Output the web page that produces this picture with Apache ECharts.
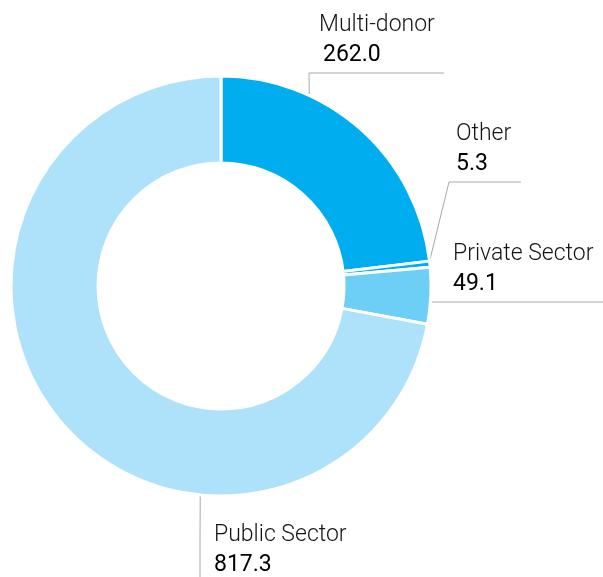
<!DOCTYPE html>
<html>
<head>
<meta charset="utf-8">
<script src="https://cdn.jsdelivr.net/npm/echarts@6/dist/echarts.min.js"></script>
<style>
  html, body { margin: 0; padding: 0; background: #ffffff; }
  #chart { width: 603px; height: 577px; }
</style>
</head>
<body>
<div id="chart"></div>
<script>
// Funding by source
const categories = ['Multi-donor', 'Other', 'Private Sector', 'Public Sector'];
const values = [262.0, 5.3, 49.1, 817.3];
const colors = ['#00aeef', '#00aeef', '#6dcff6', '#ade2fa'];

// Ring geometry (pixels)
const CENTER = [221, 286];
const R_INNER = 123;
const R_OUTER = 210;

// Leader routing per label: angle where the line leaves the ring (deg, counter-clockwise from 3 o'clock),
// elbow and end of the line, and the label's left / bottom edge.
const leaders = {
  'Multi-donor':    { angle: 65,    elbow: [309, 73],  end: [444, 73],  text: [319, 70] },
  'Other':          { angle: 6,     elbow: [449, 182], end: [521, 182], text: [456, 179] },
  'Private Sector': { angle: -4.4,  elbow: [433, 302], end: [603, 302], text: [453, 299] },
  'Public Sector':  { angle: -95.7, elbow: [200, 540], end: [200, 577], text: [214, 580] }
};
// Small indent on the value line
const valueIndent = { 'Multi-donor': 4 };

const chart = echarts.init(document.getElementById('chart'), null, { renderer: 'canvas' });

function ringPoint(angleDeg, r) {
  const a = angleDeg * Math.PI / 180;
  return [CENTER[0] + r * Math.cos(a), CENTER[1] - r * Math.sin(a)];
}

chart.setOption({
  animation: false,
  series: [{
    type: 'pie',
    center: CENTER,
    radius: [R_INNER, R_OUTER],
    startAngle: 90,
    clockwise: true,
    avoidLabelOverlap: false,
    silent: true,
    itemStyle: { borderColor: '#ffffff', borderWidth: 3 },
    data: categories.map((name, i) => ({
      name: name,
      value: values[i],
      itemStyle: { color: colors[i] }
    })),
    label: {
      show: true,
      position: 'outside',
      formatter: p => '{n|' + p.name + '}\n{v' + (valueIndent[p.name] ? 'i' : '') + '|' + p.value.toFixed(1) + '}',
      rich: {
        n:  { fontFamily: 'Roboto', fontWeight: 300, fontSize: 23, color: '#151515', lineHeight: 30 },
        v:  { fontFamily: 'Roboto', fontWeight: 400, fontSize: 23, color: '#000000', lineHeight: 30 },
        vi: { fontFamily: 'Roboto', fontWeight: 400, fontSize: 23, color: '#000000', lineHeight: 30, padding: [0, 0, 0, 4] }
      }
    },
    labelLine: {
      show: true,
      lineStyle: { color: '#a8a8a8', width: 1 }
    },
    labelLayout: function (params) {
      const name = categories[params.dataIndex];
      const L = leaders[name];
      const start = ringPoint(L.angle, R_OUTER - 1);
      return {
        x: L.text[0],
        y: L.text[1],
        align: 'left',
        verticalAlign: 'bottom',
        labelLinePoints: [start, L.elbow, L.end]
      };
    }
  }]
});
</script>
</body>
</html>
